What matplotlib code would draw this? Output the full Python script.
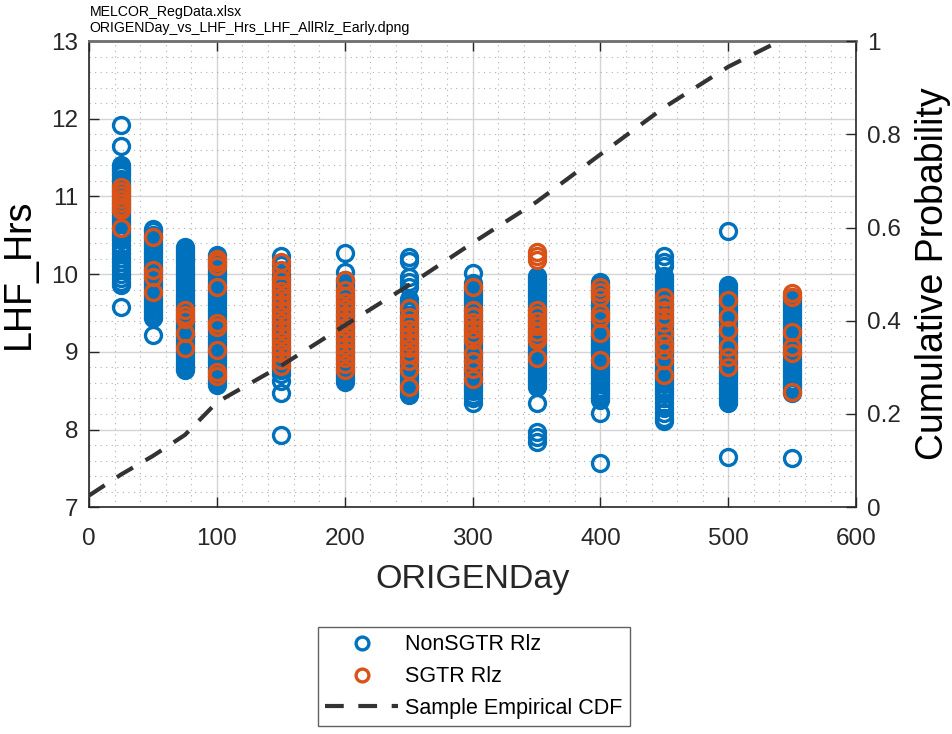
import matplotlib
matplotlib.use('Agg')
import matplotlib.pyplot as plt
from matplotlib.ticker import MultipleLocator, FixedLocator

plt.rcParams['font.family'] = ['Liberation Sans', 'DejaVu Sans']

# ORIGENDay columns and LHF_Hrs values
days = [25, 50, 75, 100, 150, 200, 250, 300, 350, 400, 450, 500, 550]

nonsgtr_025 = [11.92, 11.65, 11.41, 11.37, 11.34, 11.30, 11.27, 11.23, 11.20, 11.16, 11.12, 11.08,
               11.04, 11.00, 10.96, 10.92, 10.88, 10.84, 10.80, 10.76, 10.72, 10.68, 10.64, 10.60,
               10.56, 10.52, 10.48, 10.44, 10.38, 10.32, 10.27, 10.21, 10.16, 10.10, 10.05, 10.00,
               9.95, 9.90, 9.86, 9.58]
nonsgtr_050 = [10.58, 10.55, 10.51, 10.47, 10.43, 10.39, 10.35, 10.31, 10.27, 10.23, 10.19, 10.15,
               10.11, 10.07, 10.03, 9.99, 9.95, 9.91, 9.87, 9.83, 9.79, 9.75, 9.71, 9.67, 9.63,
               9.59, 9.55, 9.51, 9.47, 9.43, 9.22]
nonsgtr_075 = [10.35, 10.31, 10.27, 10.23, 10.19, 10.15, 10.11, 10.07, 10.03, 9.99, 9.95, 9.91,
               9.87, 9.83, 9.79, 9.75, 9.71, 9.67, 9.63, 9.59, 9.55, 9.51, 9.47, 9.43, 9.39, 9.35,
               9.31, 9.27, 9.23, 9.19, 9.15, 9.11, 9.07, 9.03, 8.99, 8.95, 8.91, 8.87, 8.83, 8.79,
               8.76]
nonsgtr_100 = [10.25, 10.21, 10.17, 10.13, 10.09, 10.05, 10.01, 9.97, 9.93, 9.89, 9.85, 9.81,
               9.77, 9.73, 9.69, 9.65, 9.61, 9.57, 9.53, 9.49, 9.45, 9.41, 9.37, 9.33, 9.29, 9.25,
               9.21, 9.17, 9.13, 9.09, 9.05, 9.01, 8.97, 8.93, 8.89, 8.85, 8.81, 8.77, 8.73, 8.69,
               8.65, 8.61, 8.57]
nonsgtr_150 = [10.24, 10.12, 10.00, 9.96, 9.92, 9.88, 9.84, 9.80, 9.76, 9.72, 9.68, 9.64, 9.60,
               9.56, 9.52, 9.48, 9.44, 9.40, 9.36, 9.32, 9.28, 9.24, 9.20, 9.16, 9.12, 9.08, 9.04,
               9.00, 8.96, 8.92, 8.88, 8.84, 8.80, 8.76, 8.72, 8.62, 8.47, 7.93]
nonsgtr_200 = [10.27, 10.03, 9.93, 9.89, 9.85, 9.81, 9.77, 9.73, 9.69, 9.65, 9.61, 9.57, 9.53,
               9.49, 9.45, 9.41, 9.37, 9.33, 9.29, 9.25, 9.21, 9.17, 9.13, 9.09, 9.05, 9.01, 8.97,
               8.93, 8.89, 8.85, 8.81, 8.77, 8.73, 8.69, 8.65, 8.61]
nonsgtr_250 = [10.22, 10.17, 9.96, 9.90, 9.84, 9.68, 9.64, 9.60, 9.56, 9.52, 9.48, 9.44, 9.40,
               9.36, 9.32, 9.28, 9.24, 9.20, 9.16, 9.12, 9.08, 9.04, 9.00, 8.96, 8.92, 8.88, 8.84,
               8.80, 8.76, 8.72, 8.68, 8.64, 8.60, 8.56, 8.52, 8.48, 8.44]
nonsgtr_300 = [10.02, 9.89, 9.85, 9.81, 9.77, 9.73, 9.69, 9.65, 9.61, 9.57, 9.53, 9.49, 9.45,
               9.41, 9.37, 9.33, 9.29, 9.25, 9.21, 9.17, 9.13, 9.09, 9.05, 9.01, 8.97, 8.93, 8.89,
               8.85, 8.81, 8.77, 8.73, 8.69, 8.65, 8.61, 8.57, 8.53, 8.49, 8.45, 8.41, 8.34]
nonsgtr_350 = [9.98, 9.94, 9.90, 9.86, 9.82, 9.78, 9.74, 9.70, 9.66, 9.62, 9.58, 9.54, 9.50,
               9.46, 9.42, 9.38, 9.34, 9.30, 9.26, 9.22, 9.18, 9.14, 9.10, 9.06, 9.02, 8.98, 8.94,
               8.90, 8.86, 8.82, 8.78, 8.74, 8.70, 8.66, 8.62, 8.58, 8.55, 8.34, 7.97, 7.90, 7.84]
nonsgtr_400 = [9.90, 9.86, 9.82, 9.78, 9.74, 9.70, 9.66, 9.62, 9.58, 9.54, 9.50, 9.46, 9.42,
               9.38, 9.34, 9.30, 9.26, 9.22, 9.18, 9.14, 9.10, 9.06, 9.02, 8.98, 8.94, 8.90, 8.86,
               8.82, 8.78, 8.74, 8.70, 8.66, 8.62, 8.58, 8.54, 8.50, 8.46, 8.42, 8.38, 8.21, 7.57]
nonsgtr_450 = [10.24, 10.16, 10.10, 9.98, 9.94, 9.90, 9.86, 9.82, 9.78, 9.74, 9.70, 9.66, 9.62,
               9.58, 9.54, 9.50, 9.46, 9.42, 9.38, 9.34, 9.30, 9.26, 9.22, 9.18, 9.14, 9.10, 9.06,
               9.02, 8.98, 8.94, 8.90, 8.86, 8.82, 8.78, 8.74, 8.70, 8.66, 8.62, 8.58, 8.54, 8.50,
               8.46, 8.40, 8.34, 8.28, 8.21, 8.15, 8.11]
nonsgtr_500 = [10.55, 9.86, 9.82, 9.78, 9.74, 9.70, 9.66, 9.62, 9.58, 9.54, 9.50, 9.46, 9.42,
               9.38, 9.34, 9.30, 9.26, 9.22, 9.18, 9.14, 9.10, 9.06, 9.02, 8.98, 8.94, 8.90, 8.86,
               8.82, 8.78, 8.74, 8.70, 8.66, 8.62, 8.58, 8.54, 8.50, 8.46, 8.42, 8.38, 8.34, 7.65]
nonsgtr_550 = [9.71, 9.67, 9.63, 9.59, 9.55, 9.51, 9.47, 9.43, 9.39, 9.35, 9.31, 9.27, 9.23,
               9.19, 9.15, 9.11, 9.07, 9.03, 8.99, 8.95, 8.91, 8.87, 8.83, 8.79, 8.75, 8.71, 8.67,
               8.63, 8.59, 8.55, 8.51, 8.47, 7.63]

sgtr_025 = [11.12, 11.07, 11.02, 10.97, 10.92, 10.87, 10.82, 10.60]
sgtr_050 = [10.48, 10.05, 9.96, 9.77]
sgtr_075 = [9.54, 9.48, 9.42, 9.24, 9.05]
sgtr_100 = [10.19, 10.15, 10.10, 9.83, 9.37, 9.32, 9.02, 8.74, 8.69]
sgtr_150 = [10.16, 10.05, 9.94, 9.86, 9.78, 9.70, 9.62, 9.54, 9.46, 9.38, 9.30, 9.22, 9.14, 9.06,
            8.98, 8.90, 8.82]
sgtr_200 = [9.92, 9.80, 9.72, 9.64, 9.56, 9.48, 9.40, 9.32, 9.24, 9.16, 9.08, 9.00, 8.92, 8.84,
            8.76]
sgtr_250 = [9.56, 9.45, 9.37, 9.29, 9.21, 9.13, 9.05, 8.97, 8.88, 8.77, 8.55]
sgtr_300 = [9.83, 9.54, 9.46, 9.38, 9.30, 9.22, 9.15, 8.98, 8.88, 8.78, 8.65]
sgtr_350 = [10.28, 10.23, 10.18, 9.54, 9.47, 9.40, 9.33, 9.26, 9.19, 9.15, 8.92]
sgtr_400 = [9.83, 9.77, 9.70, 9.50, 9.43, 9.24, 8.89]
sgtr_450 = [9.70, 9.62, 9.54, 9.45, 9.37, 9.24, 9.11, 9.02, 8.89, 8.70]
sgtr_500 = [9.67, 9.45, 9.28, 9.06, 8.93, 8.80]
sgtr_550 = [9.76, 9.71, 9.26, 9.06, 8.98, 8.48]

nonsgtr_cols = [nonsgtr_025, nonsgtr_050, nonsgtr_075, nonsgtr_100, nonsgtr_150, nonsgtr_200,
                nonsgtr_250, nonsgtr_300, nonsgtr_350, nonsgtr_400, nonsgtr_450, nonsgtr_500,
                nonsgtr_550]
sgtr_cols = [sgtr_025, sgtr_050, sgtr_075, sgtr_100, sgtr_150, sgtr_200, sgtr_250, sgtr_300,
             sgtr_350, sgtr_400, sgtr_450, sgtr_500, sgtr_550]

# sample empirical CDF of ORIGENDay
cdf_day = [0, 25, 50, 75, 100, 150, 200, 250, 300, 350, 400, 450, 500, 540]
cdf_prob = [0.025, 0.07, 0.11, 0.155, 0.225, 0.303, 0.39, 0.476, 0.567, 0.655, 0.757, 0.858,
            0.945, 1.0]

blue = '#0072BD'
orange = '#D95319'


def flatten(cols):
    xs, ys = [], []
    for d, vals in zip(days, cols):
        xs += [d] * len(vals)
        ys += vals
    return xs, ys


fig = plt.figure(figsize=(9.53, 7.34), dpi=100)
ax = fig.add_axes([0.0934, 0.309, 0.805, 0.635])

bx, by = flatten(nonsgtr_cols)
ox, oy = flatten(sgtr_cols)
h1, = ax.plot(bx, by, 'o', mfc='none', mec=blue, ms=11.5, mew=2.4, label='NonSGTR Rlz', zorder=3)
h2, = ax.plot(ox, oy, 'o', mfc='none', mec=orange, ms=11.5, mew=2.4, label='SGTR Rlz', zorder=4)

ax.set_xlim(0, 600)
ax.set_ylim(7, 13)
ax.xaxis.set_major_locator(MultipleLocator(100))
ax.xaxis.set_minor_locator(MultipleLocator(20))
ax.yaxis.set_major_locator(MultipleLocator(1))
ax.yaxis.set_minor_locator(MultipleLocator(0.2))
ax.grid(True, which='major', color='#d4d4d4', lw=1.0, zorder=0)
ax.grid(True, which='minor', color='#b0b0b0', lw=0.8, ls=(0, (1, 4)), zorder=0)
ax.set_axisbelow(True)
ax.tick_params(which='major', direction='in', length=7, width=1, labelsize=17.5, top=True,
               colors='#262626', pad=8)
ax.tick_params(axis='x', which='major', pad=15)
ax.tick_params(which='minor', length=0, top=True)
ax.set_xlabel('ORIGENDay', fontsize=24.5, color='#262626', labelpad=10)
ax.set_ylabel('LHF_Hrs', fontsize=27, color='#000000', labelpad=10)
for s in ax.spines.values():
    s.set_color('#262626')
    s.set_linewidth(1.2)
ax.spines['top'].set_color('#6e6e6e')
ax.spines['top'].set_linewidth(2)

ax2 = ax.twinx()
h3, = ax2.plot(cdf_day, cdf_prob, color='#333333', lw=3, ls=(0, (4.5, 3.5)),
               label='Sample Empirical CDF', zorder=5)
ax2.set_ylim(0, 1)
ax2.yaxis.set_major_locator(FixedLocator([0, 0.2, 0.4, 0.6, 0.8, 1.0]))
ax2.set_yticklabels(['0', '0.2', '0.4', '0.6', '0.8', '1'])
ax2.tick_params(direction='in', length=7, width=1, labelsize=17.5, colors='#262626', pad=8)
ax2.set_ylabel('Cumulative Probability', fontsize=27, color='#000000', labelpad=10)
for s in ax2.spines.values():
    s.set_visible(False)

fig.text(0.094, 0.978, 'MELCOR_RegData.xlsx', fontsize=10.2, va='baseline', ha='left')
fig.text(0.094, 0.956, 'ORIGENDay_vs_LHF_Hrs_LHF_AllRlz_Early.dpng', fontsize=10.2,
         va='baseline', ha='left')

leg = fig.legend(handles=[h1, h2, h3], loc='upper center', bbox_to_anchor=(0.497, 0.146),
                 fontsize=15.5, frameon=True, fancybox=False, edgecolor='#3a3a3a',
                 handlelength=3.4, handletextpad=0.3, borderpad=0.35, labelspacing=0.5,
                 borderaxespad=0, markerscale=0.8)
leg.get_frame().set_linewidth(1)

fig.savefig('out.png', dpi=100)
